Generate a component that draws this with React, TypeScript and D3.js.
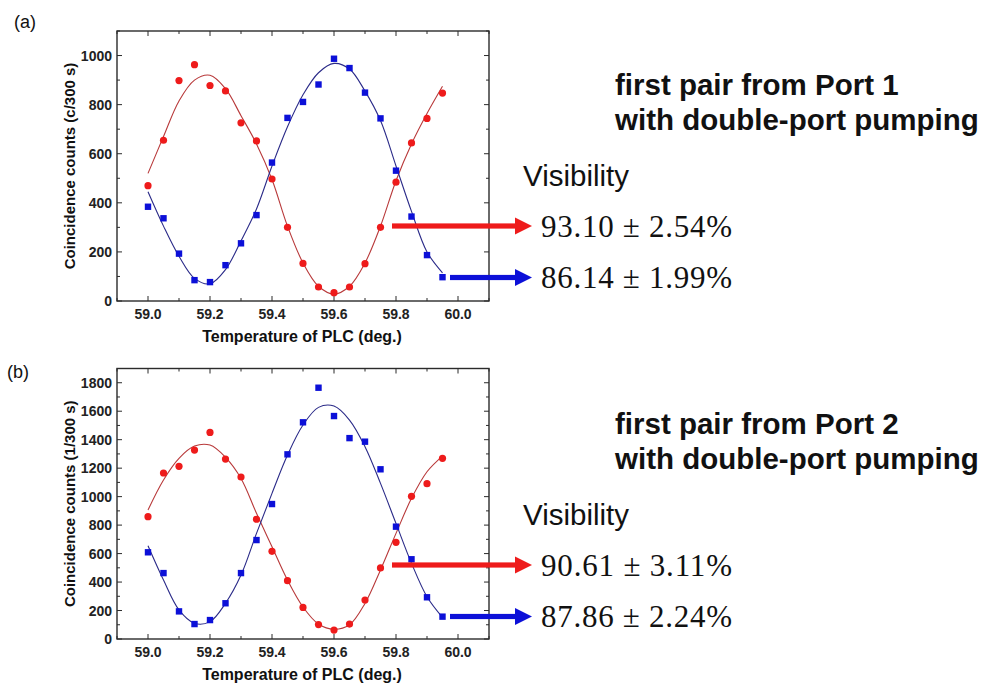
import React from "react";
import * as d3 from "d3";

// ---- data ----
const temps = [59.0, 59.05, 59.1, 59.15, 59.2, 59.25, 59.3, 59.35, 59.4, 59.45, 59.5, 59.55, 59.6, 59.65, 59.7, 59.75, 59.8, 59.85, 59.9, 59.95];

const redA = [470, 655, 898, 963, 878, 856, 726, 652, 497, 300, 153, 57, 34, 57, 152, 300, 484, 644, 744, 847];
const blueA = [384, 337, 193, 85, 77, 146, 235, 350, 564, 746, 811, 882, 987, 949, 849, 744, 531, 344, 187, 97];
const redFitA = [520, 670, 815, 900, 920, 865, 755, 640, 495, 305, 155, 60, 28, 60, 155, 305, 490, 640, 764, 875];
const blueFitA = [445, 305, 182, 92, 70, 128, 245, 375, 550, 710, 840, 930, 968, 945, 855, 735, 550, 365, 200, 115];

const redB = [859, 1166, 1213, 1327, 1451, 1264, 1138, 841, 616, 410, 222, 101, 63, 105, 274, 499, 679, 1002, 1091, 1269];
const blueB = [609, 463, 194, 105, 133, 251, 463, 695, 948, 1297, 1522, 1765, 1566, 1411, 1386, 1192, 789, 560, 293, 157];
const redFitB = [906, 1117, 1269, 1355, 1362, 1276, 1128, 883, 648, 414, 225, 105, 68, 100, 250, 485, 742, 988, 1175, 1285];
const blueFitB = [655, 414, 204, 110, 122, 251, 449, 742, 1023, 1292, 1503, 1627, 1636, 1538, 1351, 1093, 812, 532, 297, 152];

const xMajorTicks = [59.0, 59.2, 59.4, 59.6, 59.8, 60.0];
const titlesA = ["first pair from Port 1", "with double-port pumping"];
const titlesB = ["first pair from Port 2", "with double-port pumping"];
const visA = ["93.10 ± 2.54%", "86.14 ± 1.99%"];
const visB = ["90.61 ± 3.11%", "87.86 ± 2.24%"];

const SANS = "'Liberation Sans', Arial, sans-serif";
const SERIF = "'Liberation Serif', 'DejaVu Serif', serif";
const RED = "#ee1b1b";
const BLUE = "#0c10d8";
const RED_FIT = "#b8393a";
const BLUE_FIT = "#2a2a88";

type PanelProps = {
  top: number;
  bottom: number;
  yMax: number;
  yStep: number;
  yTitle: string;
  red: number[];
  blue: number[];
  redFit: number[];
  blueFit: number[];
};

const LEFT = 117;
const RIGHT = 489;

function Panel(p: PanelProps) {
  const x = d3.scaleLinear().domain([58.9, 60.1]).range([LEFT, RIGHT]);
  const y = d3.scaleLinear().domain([0, p.yMax]).range([p.bottom, p.top]);
  const line = d3
    .line<number>()
    .x((_, i) => x(temps[i]))
    .y((v) => y(v))
    .curve(d3.curveCatmullRom.alpha(0.5));

  const xMinor = d3.range(58.9, 60.1001, 0.1).map((v) => +v.toFixed(2));
  const yMajor = d3.range(0, p.yMax + 1, p.yStep);
  const yMinor = d3.range(0, p.yMax + 1, p.yStep / 2);
  const axisColor = "#2b2b2b";
  const fmtX = d3.format(".1f");

  return (
    <g>
      <rect x={LEFT} y={p.top} width={RIGHT - LEFT} height={p.bottom - p.top} fill="none" stroke={axisColor} strokeWidth={1.4} />
      {xMinor.map((t, i) => {
        const major = xMajorTicks.some((m) => Math.abs(m - t) < 1e-6);
        const len = major ? 5 : 3;
        return (
          <g key={"xt" + i}>
            <line x1={x(t)} x2={x(t)} y1={p.bottom} y2={p.bottom - len} stroke={axisColor} strokeWidth={1} />
            <line x1={x(t)} x2={x(t)} y1={p.top} y2={p.top + len} stroke={axisColor} strokeWidth={1} />
          </g>
        );
      })}
      {yMinor.map((v, i) => {
        const major = yMajor.includes(v);
        const len = major ? 5 : 3;
        return (
          <g key={"yt" + i}>
            <line x1={LEFT} x2={LEFT + len} y1={y(v)} y2={y(v)} stroke={axisColor} strokeWidth={1} />
            <line x1={RIGHT} x2={RIGHT - len} y1={y(v)} y2={y(v)} stroke={axisColor} strokeWidth={1} />
          </g>
        );
      })}
      {xMajorTicks.map((t, i) => (
        <text key={"xl" + i} x={x(t)} y={p.bottom + 18} textAnchor="middle" fontFamily={SANS} fontWeight="bold" fontSize={14} fill="#222">
          {fmtX(t)}
        </text>
      ))}
      {yMajor.map((v, i) => (
        <text key={"yl" + i} x={LEFT - 5} y={y(v) + 5} textAnchor="end" fontFamily={SANS} fontWeight="bold" fontSize={14} fill="#222">
          {v}
        </text>
      ))}
      <text x={(LEFT + RIGHT) / 2 - 1} y={p.bottom + 41} textAnchor="middle" fontFamily={SANS} fontWeight="bold" fontSize={16} fill="#111">
        Temperature of PLC (deg.)
      </text>
      <text
        transform={`translate(75,${(p.top + p.bottom) / 2}) rotate(-90)`}
        textAnchor="middle"
        fontFamily={SANS}
        fontWeight="bold"
        fontSize={15}
        fill="#111"
      >
        {p.yTitle}
      </text>
      <path d={line(p.redFit) || ""} fill="none" stroke={RED_FIT} strokeWidth={1.1} />
      <path d={line(p.blueFit) || ""} fill="none" stroke={BLUE_FIT} strokeWidth={1.1} />
      {p.red.map((v, i) => (
        <circle key={"r" + i} cx={x(temps[i])} cy={y(v)} r={3.6} fill={RED} />
      ))}
      {p.blue.map((v, i) => (
        <rect key={"b" + i} x={x(temps[i]) - 3.2} y={y(v) - 3.2} width={6.4} height={6.4} fill={BLUE} />
      ))}
    </g>
  );
}

function Arrow({ x1, x2, y, color }: { x1: number; x2: number; y: number; color: string }) {
  return (
    <g>
      <rect x={x1} y={y - 2.6} width={x2 - 16 - x1} height={5.2} fill={color} />
      <polygon points={`${x2 - 17},${y - 8.5} ${x2},${y} ${x2 - 17},${y + 8.5}`} fill={color} />
    </g>
  );
}

function TextBlock({ dy, titles, vis }: { dy: number; titles: string[]; vis: string[] }) {
  return (
    <g>
      <text x={615} y={95 + dy} fontFamily={SANS} fontWeight="bold" fontSize={29.5} fill="#111">
        {titles[0]}
      </text>
      <text x={615} y={130 + dy} fontFamily={SANS} fontWeight="bold" fontSize={29.5} fill="#111">
        {titles[1]}
      </text>
      <text x={523} y={186 + dy} fontFamily={SANS} fontSize={29.5} fill="#111">
        Visibility
      </text>
      <Arrow x1={392} x2={532} y={226 + dy} color={RED} />
      <Arrow x1={450} x2={532} y={277.5 + dy} color={BLUE} />
      <text x={541} y={237 + dy} fontFamily={SERIF} fontSize={31} fill="#111" textLength={191} lengthAdjust="spacing">
        {vis[0]}
      </text>
      <text x={541} y={288 + dy} fontFamily={SERIF} fontSize={31} fill="#111" textLength={191} lengthAdjust="spacing">
        {vis[1]}
      </text>
    </g>
  );
}

export default function App() {
  return (
    <svg width={987} height={683} style={{ position: "absolute", left: 0, top: 0, background: "#fff" }}>
      <rect width={987} height={683} fill="#fff" />
      <text x={14} y={28} fontFamily={SANS} fontSize={18} fill="#111">(a)</text>
      <text x={7} y={378} fontFamily={SANS} fontSize={18} fill="#111">(b)</text>
      <Panel top={31} bottom={301} yMax={1100} yStep={200} yTitle="Coincidence counts (c/300 s)" red={redA} blue={blueA} redFit={redFitA} blueFit={blueFitA} />
      <Panel top={368.5} bottom={639} yMax={1900} yStep={200} yTitle="Coincidence counts (1/300 s)" red={redB} blue={blueB} redFit={redFitB} blueFit={blueFitB} />
      <TextBlock dy={0} titles={titlesA} vis={visA} />
      <TextBlock dy={339} titles={titlesB} vis={visB} />
    </svg>
  );
}
